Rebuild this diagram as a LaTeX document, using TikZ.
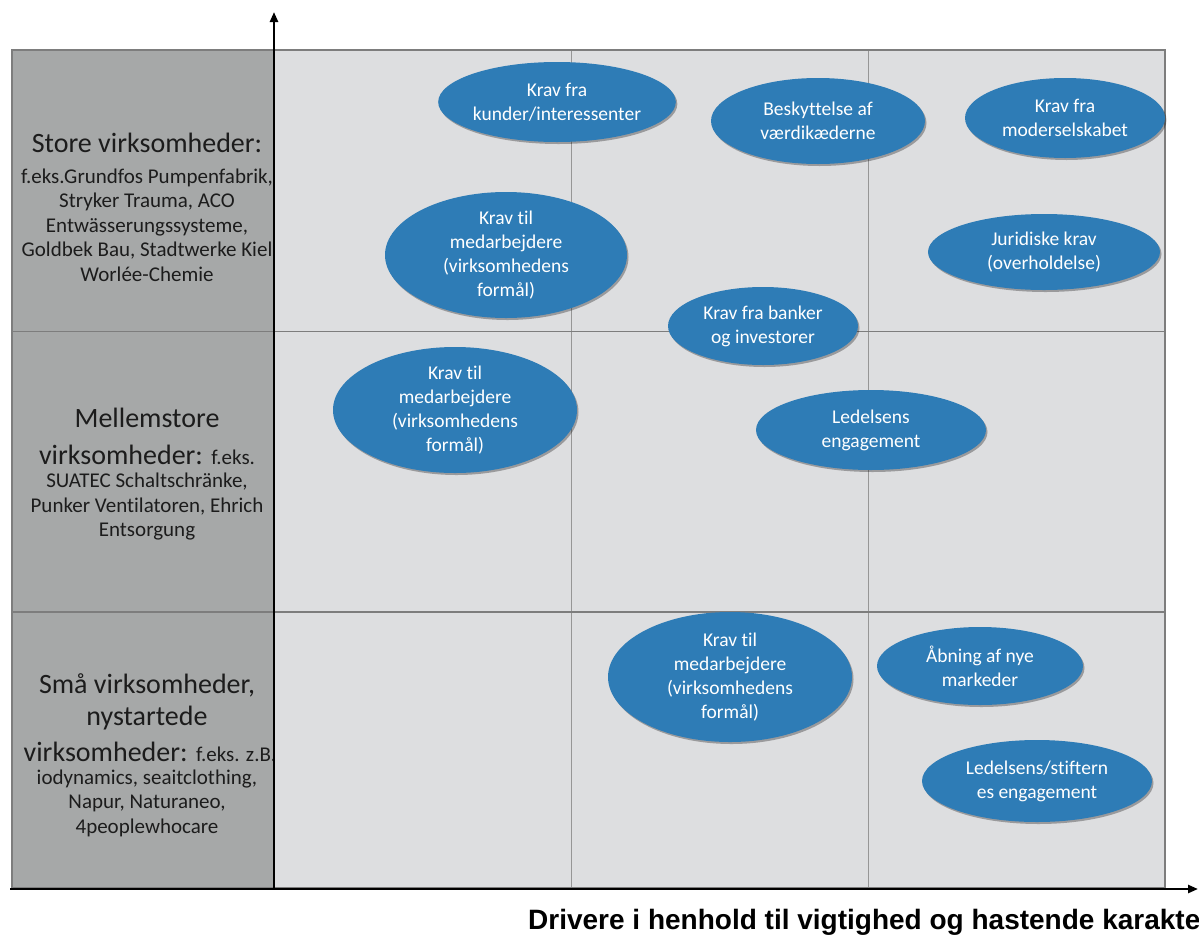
\documentclass[tikz,border=0pt]{standalone}
\usepackage{fontspec}
\setmainfont{Carlito}[Ligatures=NoCommon]
\newfontfamily\labfont{Liberation Sans}
\usetikzlibrary{shapes.geometric,arrows.meta,shadows}
\definecolor{sidegray}{RGB}{166,168,168}
\definecolor{plotgray}{RGB}{221,222,224}
\definecolor{gridgray}{RGB}{125,125,125}
\definecolor{thingray}{RGB}{150,150,150}
\definecolor{bubblue}{RGB}{46,124,182}
\definecolor{txtdark}{RGB}{28,28,28}
\begin{document}
\begin{tikzpicture}[x=1pt,y=-1pt,
  bubble/.style={ellipse, fill=bubblue, draw=none, text=white, align=center, inner sep=0pt,
    font=\fontsize{19.5}{24}\selectfont,
    drop shadow={shadow xshift=1.5pt,shadow yshift=-2pt,opacity=0.3,fill=black}},
  bigtxt/.style={font=\fontsize{28}{34}\selectfont, text=txtdark, align=center, inner sep=0pt},
  smalltxt/.style={font=\fontsize{21}{24.5}\selectfont, text=txtdark, align=center, inner sep=0pt},
  rowline/.style={draw=gridgray, line width=1.6pt},
  colline/.style={draw=thingray, line width=0.8pt},
  axisline/.style={line width=2.4pt, -{Triangle[length=10pt,width=8pt]}}]
\useasboundingbox (0,0) rectangle (1199,943);
% backgrounds
\fill[sidegray] (12,50) rectangle (274,888);
\fill[plotgray] (274,50) rectangle (1165,888);
% grid
\draw[colline] (571,50) -- (571,888);
\draw[colline] (868,50) -- (868,888);
\draw[rowline] (12,331.5) -- (1165,331.5);
\draw[rowline] (12,612) -- (1165,612);
\draw[rowline] (12,50) rectangle (1165,888);
% coordinates for axes
\coordinate (yfoot) at (274,889);
\coordinate (ytop) at (274,12);
\coordinate (xfoot) at (10,889);
\coordinate (xend) at (1198,889);
% left labels
\node[bigtxt] (storeA) at (147,143) {Store virksomheder:};
\node[smalltxt] (storeB) at (147,225) {f.eks.Grundfos Pumpenfabrik,\\Stryker Trauma, ACO\\Entwässerungssysteme,\\Goldbek Bau, Stadtwerke Kiel\\Worlée-Chemie};
\node[bigtxt] (midA) at (147,418) {Mellemstore};
\node[bigtxt] (midB) at (147,455) {virksomheder: {\fontsize{21}{24}\selectfont f.eks.}};
\node[smalltxt] (midC) at (147,507) {SUATEC Schaltschränke,\\Punker Ventilatoren, Ehrich\\Entsorgung};
\node[bigtxt] (smA) at (147,685) {Små virksomheder,};
\node[bigtxt] (smB) at (147,718) {nystartede};
\node[bigtxt] (smC) at (150,752) {virksomheder: {\fontsize{21}{24}\selectfont f.eks. z.B.}};
\node[smalltxt] (smD) at (147,803) {iodynamics, seaitclothing,\\Napur, Naturaneo,\\4peoplewhocare};
% bubbles
\node[bubble, minimum width=224pt, minimum height=80pt] (e1) at (557,102) {Krav fra\\kunder/interessenter};
\node[bubble, minimum width=214pt, minimum height=86pt] (e2) at (818,121) {Beskyttelse af\\værdikæderne};
\node[bubble, minimum width=200pt, minimum height=80pt] (e3) at (1065,118) {Krav fra\\moderselskabet};
\node[bubble, minimum width=242pt, minimum height=126pt] (e4) at (506,255) {Krav til\\medarbejdere\\(virksomhedens\\formål)};
\node[bubble, minimum width=232pt, minimum height=76pt] (e5) at (1044,252) {Juridiske krav\\(overholdelse)};
\node[bubble, minimum width=190pt, minimum height=78pt] (e6) at (763,326) {Krav fra banker\\og investorer};
\node[bubble, minimum width=244pt, minimum height=126pt] (e7) at (455,410) {Krav til\\medarbejdere\\(virksomhedens\\formål)};
\node[bubble, minimum width=230pt, minimum height=80pt] (e8) at (871,430) {Ledelsens\\engagement};
\node[bubble, minimum width=244pt, minimum height=130pt] (e9) at (730,677) {Krav til\\medarbejdere\\(virksomhedens\\formål)};
\node[bubble, minimum width=206pt, minimum height=78pt] (e10) at (980,666) {Åbning af nye\\markeder};
\node[bubble, minimum width=230pt, minimum height=82pt] (e11) at (1037,781) {Ledelsens/stiftern\\es engagement};
% axes
\draw[axisline] (yfoot) -- (ytop);
\draw[axisline] (xfoot) -- (xend);
\node[anchor=base west, inner sep=0pt, font=\labfont\bfseries\fontsize{28}{32}\selectfont] (xlabel) at (528,929) {Drivere i henhold til vigtighed og hastende karakter};
\end{tikzpicture}
\end{document}
